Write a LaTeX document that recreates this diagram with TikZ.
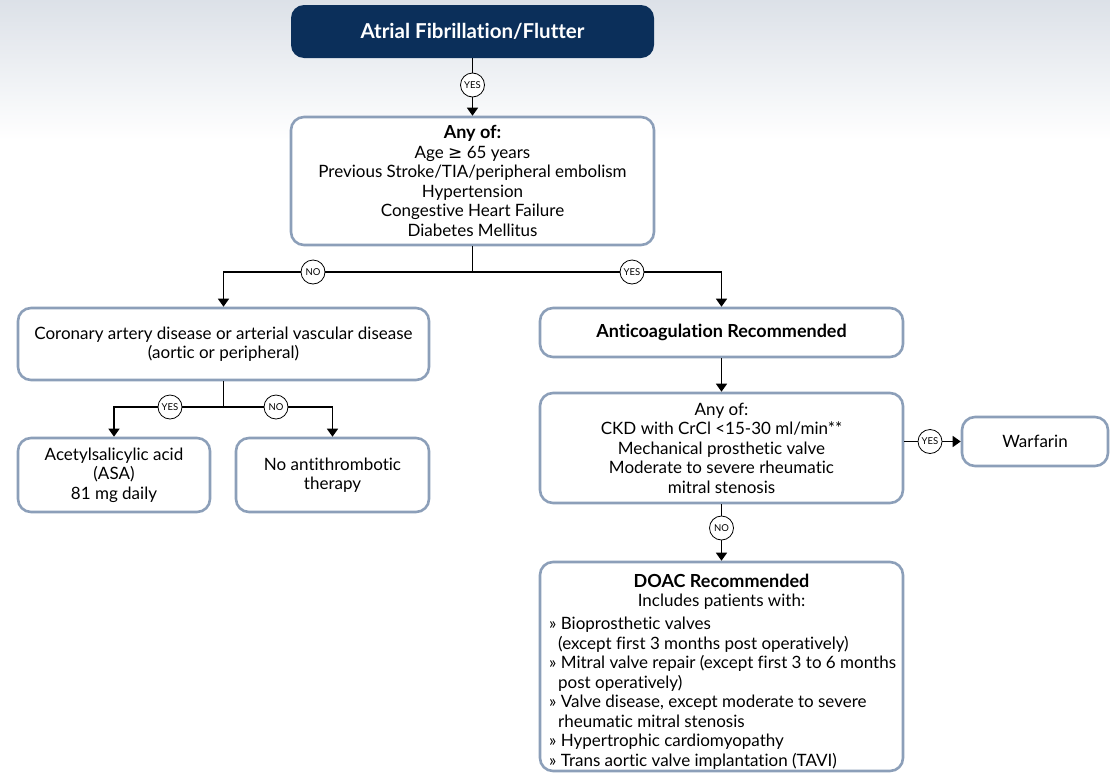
\documentclass[tikz,border=0pt]{standalone}
\usepackage{fontspec}
\setmainfont{Lato}[Ligatures=NoCommon]
\newfontfamily\symf{DejaVu Sans}
\usetikzlibrary{arrows.meta}
\definecolor{navy}{HTML}{0B2F5A}
\definecolor{edge}{HTML}{8C9FB9}
\definecolor{haze}{HTML}{DCE1E8}
% bold heading lines set a touch larger than body text
\newcommand\hd[1]{{\fontsize{18}{19.5}\selectfont\bfseries #1}}

\begin{document}
\begin{tikzpicture}[x=1pt,y=-1pt,
  box/.style={draw=edge,line width=2.6pt,rounded corners=13pt,fill=white,
    align=center,inner sep=0pt,font=\fontsize{17}{19.5}\selectfont},
  titlebox/.style={fill=navy,rounded corners=13pt,inner sep=0pt,text=white,
    font=\fontsize{20.5}{22}\selectfont\bfseries},
  link/.style={line width=1.4pt},
  arr/.style={link,-{Triangle[width=11pt,length=8pt]}},
  tag/.style={circle,draw,line width=0.8pt,fill=white,minimum size=24pt,
    inner sep=0pt,font=\fontsize{9.5}{10}\selectfont}]

% page and soft header band
\useasboundingbox (0,0) rectangle (1110,774);
\fill[top color=haze,bottom color=white] (0,0) rectangle (1110,140);

% boxes
\node[titlebox,minimum width=363pt,minimum height=53pt] (af) at (472.5,31.5)
  {Atrial Fibrillation/Flutter};
\node[box,minimum width=363pt,minimum height=128pt] (risk) at (472.5,181)
  {\hd{Any of:}\\Age {\symf ≥} 65 years\\Previous Stroke/TIA/peripheral embolism\\
   Hypertension\\Congestive Heart Failure\\Diabetes Mellitus};
\node[box,minimum width=411pt,minimum height=72pt] (cad) at (223.5,344)
  {Coronary artery disease or arterial vascular disease\\(aortic or peripheral)};
\node[box,minimum width=192pt,minimum height=74pt] (asa) at (114,475)
  {Acetylsalicylic acid\\(ASA)\\81 mg daily};
\node[box,minimum width=193pt,minimum height=74pt] (noat) at (332.5,475)
  {No antithrombotic\\therapy};
\node[box,minimum width=363pt,minimum height=49pt] (anti) at (721.5,332.5)
  {\hd{Anticoagulation Recommended}};
\node[box,minimum width=363pt,minimum height=110pt] (valve) at (721.5,448)
  {Any of:\\CKD with CrCl <15-30 ml/min**\\Mechanical prosthetic valve\\
   Moderate to severe rheumatic\\mitral stenosis};
\node[box,minimum width=146pt,minimum height=49pt] (warf) at (1035,441.5)
  {Warfarin};
\node[box,minimum width=363pt,minimum height=209pt] (doac) at (721.5,666.5) {};
\node[align=center,inner sep=0pt,font=\fontsize{17}{19.5}\selectfont]
  (doachead) at (721.5,592)
  {\hd{DOAC Recommended}\\Includes patients with:};
\node[align=left,inner sep=0pt,anchor=north west,
  font=\fontsize{17}{19.5}\selectfont] (doaclist) at (549,617)
  {» Bioprosthetic valves\\
   \hspace*{9pt}(except first 3 months post operatively)\\
   » Mitral valve repair (except first 3 to 6 months\\
   \hspace*{9pt}post operatively)\\
   » Valve disease, except moderate to severe\\
   \hspace*{9pt}rheumatic mitral stenosis\\
   » Hypertrophic cardiomyopathy\\
   » Trans aortic valve implantation (TAVI)};

% junction points
\coordinate (j1) at (472.5,272);
\coordinate (j2) at (223.5,407);

% connectors
\draw[arr] (af.south) -- (risk.north);
\draw[link] (risk.south) -- (j1);
\draw[arr] (j1) -| (cad.north);
\draw[arr] (j1) -| (anti.north);
\draw[link] (cad.south) -- (j2);
\draw[arr] (j2) -| (asa.north);
\draw[arr] (j2) -| (noat.north);
\draw[arr] (anti.south) -- (valve.north);
\draw[arr] (valve.east |- warf.west) -- (warf.west);
\draw[arr] (valve.south) -- (doac.north);

% decision tags
\node[tag] (t1) at (472.5,85) {YES};
\node[tag] (t2) at (313,272) {NO};
\node[tag] (t3) at (632,272) {YES};
\node[tag] (t4) at (170,407) {YES};
\node[tag] (t5) at (276,407) {NO};
\node[tag] (t6) at (930,441.5) {YES};
\node[tag] (t7) at (721.5,528) {NO};
\end{tikzpicture}
\end{document}
